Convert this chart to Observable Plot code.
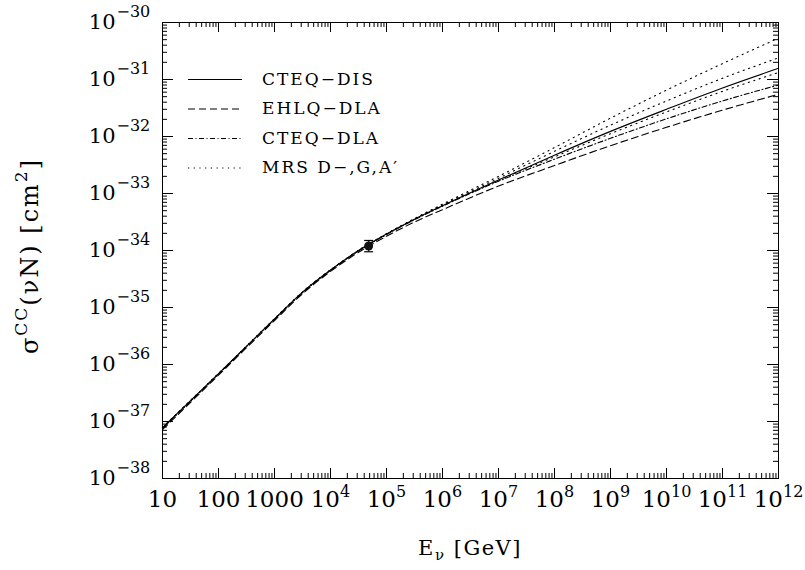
<!DOCTYPE html>
<html><head><meta charset="utf-8">
<script src="https://cdn.jsdelivr.net/npm/d3@7"></script>
<script src="https://cdn.jsdelivr.net/npm/@observablehq/plot@0.6"></script>
<style>body{margin:0;background:#fff} #chart{width:805px;height:570px}</style>
</head><body><div id="chart"></div>
<script>
// ---- data ----
const energies = [10, 100, 1000, 3162, 1e4, 31623, 1e5, 316228, 1e6, 1e7, 1e8, 1e9, 1e10, 1e11, 1e12];
const cteqDis = [7.8e-38, 6.9e-37, 6.3e-36, 1.86e-35, 4.55e-35, 1.0e-34, 1.95e-34, 3.55e-34, 6.1e-34, 1.72e-33, 4.7e-33, 1.23e-32, 3.0e-32, 7.1e-32, 1.57e-31];
const ehlqDla = [7.2e-38, 6.5e-37, 5.9e-36, 1.74e-35, 4.3e-35, 9.3e-35, 1.78e-34, 3.16e-34, 5.2e-34, 1.35e-33, 3.1e-33, 6.9e-33, 1.45e-32, 2.9e-32, 5.5e-32];
const cteqDla = [7.6e-38, 6.8e-37, 6.2e-36, 1.82e-35, 4.47e-35, 9.8e-35, 1.9e-34, 3.47e-34, 6.0e-34, 1.64e-33, 4.0e-33, 9.3e-33, 2.04e-32, 4.2e-32, 8.0e-32];
const mrsD = [7.8e-38, 6.9e-37, 6.3e-36, 1.86e-35, 4.55e-35, 1.0e-34, 1.95e-34, 3.63e-34, 6.5e-34, 2.0e-33, 6.4e-33, 2.1e-32, 6.5e-32, 1.9e-31, 5.3e-31];
const mrsG = [7.8e-38, 6.9e-37, 6.3e-36, 1.86e-35, 4.55e-35, 1.0e-34, 1.95e-34, 3.58e-34, 6.3e-34, 1.85e-33, 5.5e-33, 1.58e-32, 4.2e-32, 1.05e-31, 2.4e-31];
const mrsA = [7.8e-38, 6.9e-37, 6.3e-36, 1.86e-35, 4.55e-35, 1.0e-34, 1.95e-34, 3.55e-34, 6.1e-34, 1.7e-33, 4.4e-33, 1.12e-32, 2.7e-32, 6.2e-32, 1.33e-31];
const measuredE = [4.8e4];
const measuredSigma = [1.2e-34];
const measuredLo = [0.95e-34];
const measuredHi = [1.5e-34];

const seriesNames = ["CTEQ\u2212DIS", "EHLQ\u2212DLA", "CTEQ\u2212DLA", "MRS D\u2212,G,A\u2032"];
const xPlainLabels = [10, 100, 1000];
const xExpOne = [4, 5, 6, 7, 8, 9];
const xExpTwo = [10, 11, 12];
const yExps = [-30, -31, -32, -33, -34, -35, -36, -37, -38];

// ---- layout ----
const W = 805, H = 570;
const mL = 162, mR = 27, mT = 22, mB = 92;
const pw = W - mL - mR, ph = H - mT - mB;
const FONT = "DejaVu Serif";

const dashes = {solid: null, dashed: "7,4", dashdot: "5,2.5,1,2.5", dotted: "1.2,4.5"};
const curves = [
  {vals: cteqDis, dash: dashes.solid},
  {vals: ehlqDla, dash: dashes.dashed},
  {vals: cteqDla, dash: dashes.dashdot},
  {vals: mrsD, dash: dashes.dotted},
  {vals: mrsG, dash: dashes.dotted},
  {vals: mrsA, dash: dashes.dotted}
];

const xMajor = d3.range(1, 13).map(k => +("1e" + k));
const xMinor = [];
for (let k = 1; k < 12; k++) for (let m = 2; m <= 9; m++) xMinor.push(+(m + "e" + k));
const yMajor = d3.range(-38, -29).map(k => +("1e" + k));
const yMinor = [];
for (let k = -38; k < -30; k++) for (let m = 2; m <= 9; m++) yMinor.push(+(m + "e" + k));

const lineMarks = curves.map(c => Plot.line(energies.map((e, i) => ({e, s: c.vals[i]})), {
  x: "e", y: "s", curve: "monotone-x", stroke: "black", strokeWidth: 1.1,
  strokeDasharray: c.dash
}));

const pt = measuredE.map((e, i) => ({e, s: measuredSigma[i], lo: measuredLo[i], hi: measuredHi[i]}));
const capSymbol = {draw(ctx) { ctx.moveTo(-4.5, 0); ctx.lineTo(4.5, 0); }};

const tickOpts = {stroke: "black", strokeWidth: 1};

const chart = Plot.plot({
  width: W, height: H,
  marginLeft: mL, marginRight: mR, marginTop: mT, marginBottom: mB,
  style: {fontFamily: FONT, background: "white", color: "black"},
  x: {type: "log", domain: [10, 1e12], axis: null},
  y: {type: "log", domain: [1e-38, 1e-30], axis: null},
  marks: [
    // ticks (inward, on all four sides)
    Plot.tickX(xMajor, {x: d => d, insetTop: ph - 10, ...tickOpts}),
    Plot.tickX(xMajor, {x: d => d, insetBottom: ph - 10, ...tickOpts}),
    Plot.tickX(xMinor, {x: d => d, insetTop: ph - 5, ...tickOpts}),
    Plot.tickX(xMinor, {x: d => d, insetBottom: ph - 5, ...tickOpts}),
    Plot.tickY(yMajor, {y: d => d, insetRight: pw - 11, ...tickOpts}),
    Plot.tickY(yMajor, {y: d => d, insetLeft: pw - 11, ...tickOpts}),
    Plot.tickY(yMinor, {y: d => d, insetRight: pw - 5, ...tickOpts}),
    Plot.tickY(yMinor, {y: d => d, insetLeft: pw - 5, ...tickOpts}),
    Plot.frame({stroke: "black", strokeWidth: 1}),
    // x tick labels
    Plot.text(xPlainLabels, {x: d => d, text: d => String(d), frameAnchor: "bottom", dy: 21, fontSize: 23, lineAnchor: "middle", textAnchor: "middle"}),
    Plot.text(xExpOne, {x: d => +("1e" + d), text: () => "10", frameAnchor: "bottom", dy: 21, fontSize: 23, lineAnchor: "middle", textAnchor: "end", dx: 9.5}),
    Plot.text(xExpOne, {x: d => +("1e" + d), text: d => String(d), frameAnchor: "bottom", dy: 13, fontSize: 16, lineAnchor: "middle", textAnchor: "start", dx: 9.5}),
    Plot.text(xExpTwo, {x: d => +("1e" + d), text: () => "10", frameAnchor: "bottom", dy: 21, fontSize: 23, lineAnchor: "middle", textAnchor: "end", dx: 4.5}),
    Plot.text(xExpTwo, {x: d => +("1e" + d), text: d => String(d), frameAnchor: "bottom", dy: 13, fontSize: 16, lineAnchor: "middle", textAnchor: "start", dx: 4.5}),
    // y tick labels
    Plot.text(yExps, {y: d => +("1e" + d), text: () => "10", frameAnchor: "left", dx: -47, fontSize: 21, lineAnchor: "middle", textAnchor: "end"}),
    Plot.text(yExps, {y: d => +("1e" + d), text: d => "\u2212" + Math.abs(d), frameAnchor: "left", dx: -46, dy: -11, fontSize: 16, lineAnchor: "middle", textAnchor: "start"}),
    // curves
    ...lineMarks,
    // measurement
    Plot.ruleX(pt, {x: "e", y1: "lo", y2: "hi", stroke: "black", strokeWidth: 1.2}),
    Plot.dot(pt, {x: "e", y: "lo", symbol: capSymbol, stroke: "black", strokeWidth: 1.2, fill: "none"}),
    Plot.dot(pt, {x: "e", y: "hi", symbol: capSymbol, stroke: "black", strokeWidth: 1.2, fill: "none"}),
    Plot.dot(pt, {x: "e", y: "s", r: 4.5, fill: "#111", stroke: "none"})
  ]
});
document.getElementById("chart").appendChild(chart);

// ---- legend and axis titles ----
const svg = d3.select(chart);
const legendDash = [dashes.solid, dashes.dashed, dashes.dashdot, dashes.dotted];
const lg = svg.append("g").attr("font-family", FONT).attr("font-size", 17).attr("text-anchor", "start");
seriesNames.forEach((name, i) => {
  const y = 79 + i * 29.5;
  lg.append("line").attr("x1", 188).attr("x2", 242).attr("y1", y + 0.5).attr("y2", y + 0.5)
    .attr("stroke", "black").attr("stroke-width", 1).attr("stroke-dasharray", legendDash[i]);
  lg.append("text").attr("x", 262).attr("y", y).attr("dy", "0.35em").attr("text-anchor", "start")
    .attr("letter-spacing", 2).text(name);
});

const xt = svg.append("text").attr("font-family", FONT).attr("font-size", 21)
  .attr("x", mL + pw / 2).attr("y", 555).attr("text-anchor", "middle").attr("letter-spacing", 1.5);
xt.append("tspan").text("E");
xt.append("tspan").attr("font-size", 15).attr("dy", 5).text("\u03bd");
xt.append("tspan").attr("dy", -5).text(" [GeV]");

const yt = svg.append("text").attr("font-family", FONT).attr("font-size", 24)
  .attr("transform", `translate(38,${mT + ph / 2 + 6}) rotate(-90)`).attr("text-anchor", "middle")
  .attr("letter-spacing", 2);
yt.append("tspan").text("\u03c3");
yt.append("tspan").attr("font-size", 17).attr("dy", -11).text("CC");
yt.append("tspan").attr("dy", 11).text("(\u03bdN) [cm");
yt.append("tspan").attr("font-size", 17).attr("dy", -11).text("2");
yt.append("tspan").attr("dy", 11).text("]");
</script></body></html>
